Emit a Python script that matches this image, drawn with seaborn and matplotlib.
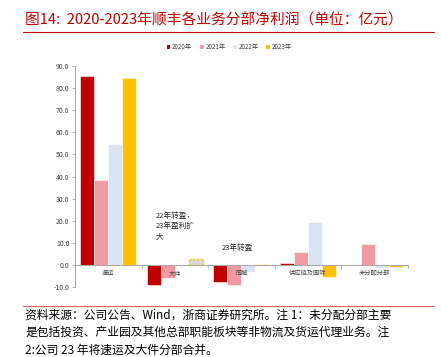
import pandas as pd
import numpy as np
import matplotlib
matplotlib.use("Agg")
import matplotlib.pyplot as plt
from matplotlib.lines import Line2D
from matplotlib.patches import Patch
import seaborn as sns

# data (亿元)
segments = ["速运", "大件", "同城", "供应链及国际", "未分配分部"]
years = ["2020年", "2021年", "2022年", "2023年"]
profit_2020 = [85.2, -9.1, -7.4, 1.0, 0.0]
profit_2021 = [38.5, -5.9, -9.1, 6.0, 9.5]
profit_2022 = [54.8, 0.3, -3.0, 19.6, -1.4]
profit_2023 = [84.6, 2.8, 0.6, -5.4, -0.9]
colors = ["#C00000", "#F09BA3", "#DAE3F3", "#FFC000"]

df = pd.DataFrame({
    "segment": segments * 4,
    "year": np.repeat(years, len(segments)),
    "profit": profit_2020 + profit_2021 + profit_2022 + profit_2023,
})

sns.set_style("white")
plt.rcParams["font.family"] = ["Noto Sans CJK SC", "DejaVu Sans"]
plt.rcParams["axes.unicode_minus"] = False

fig = plt.figure(figsize=(4.41, 3.57), dpi=100)
ax = fig.add_axes([0.170, 0.195, 0.755, 0.621])

sns.barplot(data=df, x="segment", y="profit", hue="year", palette=colors,
            saturation=1, width=0.84, ax=ax, legend=False,
            edgecolor="white", linewidth=0.4)

# 23年大件: highlighted bar
hl = ax.containers[3][1]
hl.set_facecolor("#D9D9D9")
hl.set_edgecolor("#FFC000")
hl.set_linestyle((0, (1.5, 1)))
hl.set_linewidth(1.0)

ax.set_axisbelow(False)
ax.set_ylim(-10, 90)
ax.set_xlim(-0.5, 4.5)
ax.set_yticks(np.arange(-10, 91, 10))
ax.set_yticklabels([f"{v:.1f}" for v in np.arange(-10, 91, 10)])
ax.set_xlabel("")
ax.set_ylabel("")

for s in ["top", "right"]:
    ax.spines[s].set_visible(False)
ax.spines["left"].set_color("#A6A6A6")
ax.spines["left"].set_linewidth(0.7)
ax.spines["bottom"].set_position(("data", 0))
ax.spines["bottom"].set_color("#A6A6A6")
ax.spines["bottom"].set_linewidth(0.7)

ax.tick_params(axis="y", length=2, width=0.6, color="#A6A6A6", labelsize=5,
               labelcolor="#404040", pad=2, left=True)
ax.tick_params(axis="x", which="major", length=0, labelsize=4.5,
               labelcolor="#404040", pad=3)
ax.set_xticks(np.arange(-0.5, 4.6, 1), minor=True)
ax.tick_params(axis="x", which="minor", length=2, width=0.6, color="#A6A6A6",
               bottom=True)

ax.text(0.71, 24, "22年转盈，\n23年盈利扩\n大", fontsize=5.5, color="#262626",
        va="top", ha="left", linespacing=1.35)
ax.text(1.71, 9.5, "23年转盈", fontsize=5.5, color="#262626",
        va="top", ha="left")

handles = [Patch(facecolor=c, edgecolor="none") for c in colors]
fig.legend(handles, years, loc="center", bbox_to_anchor=(0.52, 0.868), ncol=4,
           frameon=False, fontsize=4.5, handlelength=0.6, handleheight=0.6,
           handletextpad=0.3, columnspacing=1.2, labelcolor="#404040")

# header / footer
fig.text(0.057, 0.944, "图14:  2020-2023年顺丰各业务分部净利润（单位：亿元）",
         fontsize=10.6, color="#C00000", va="center", ha="left")
fig.add_artist(Line2D([0.052, 0.984], [0.910, 0.910], color="#C00000", lw=0.8))
fig.add_artist(Line2D([0.052, 0.984], [0.143, 0.143], color="#E06666", lw=0.8))

notes = [
    "资料来源：公司公告、Wind，浙商证券研究所。注 1：未分配分部主要",
    "是包括投资、产业园及其他总部职能板块等非物流及货运代理业务。注",
    "2:公司 23 年将速运及大件分部合并。",
]
for i, line in enumerate(notes):
    fig.text(0.057, 0.118 - i * 0.049, line, fontsize=8.5, color="black",
             va="center", ha="left")

fig.savefig("out.png", dpi=100)
